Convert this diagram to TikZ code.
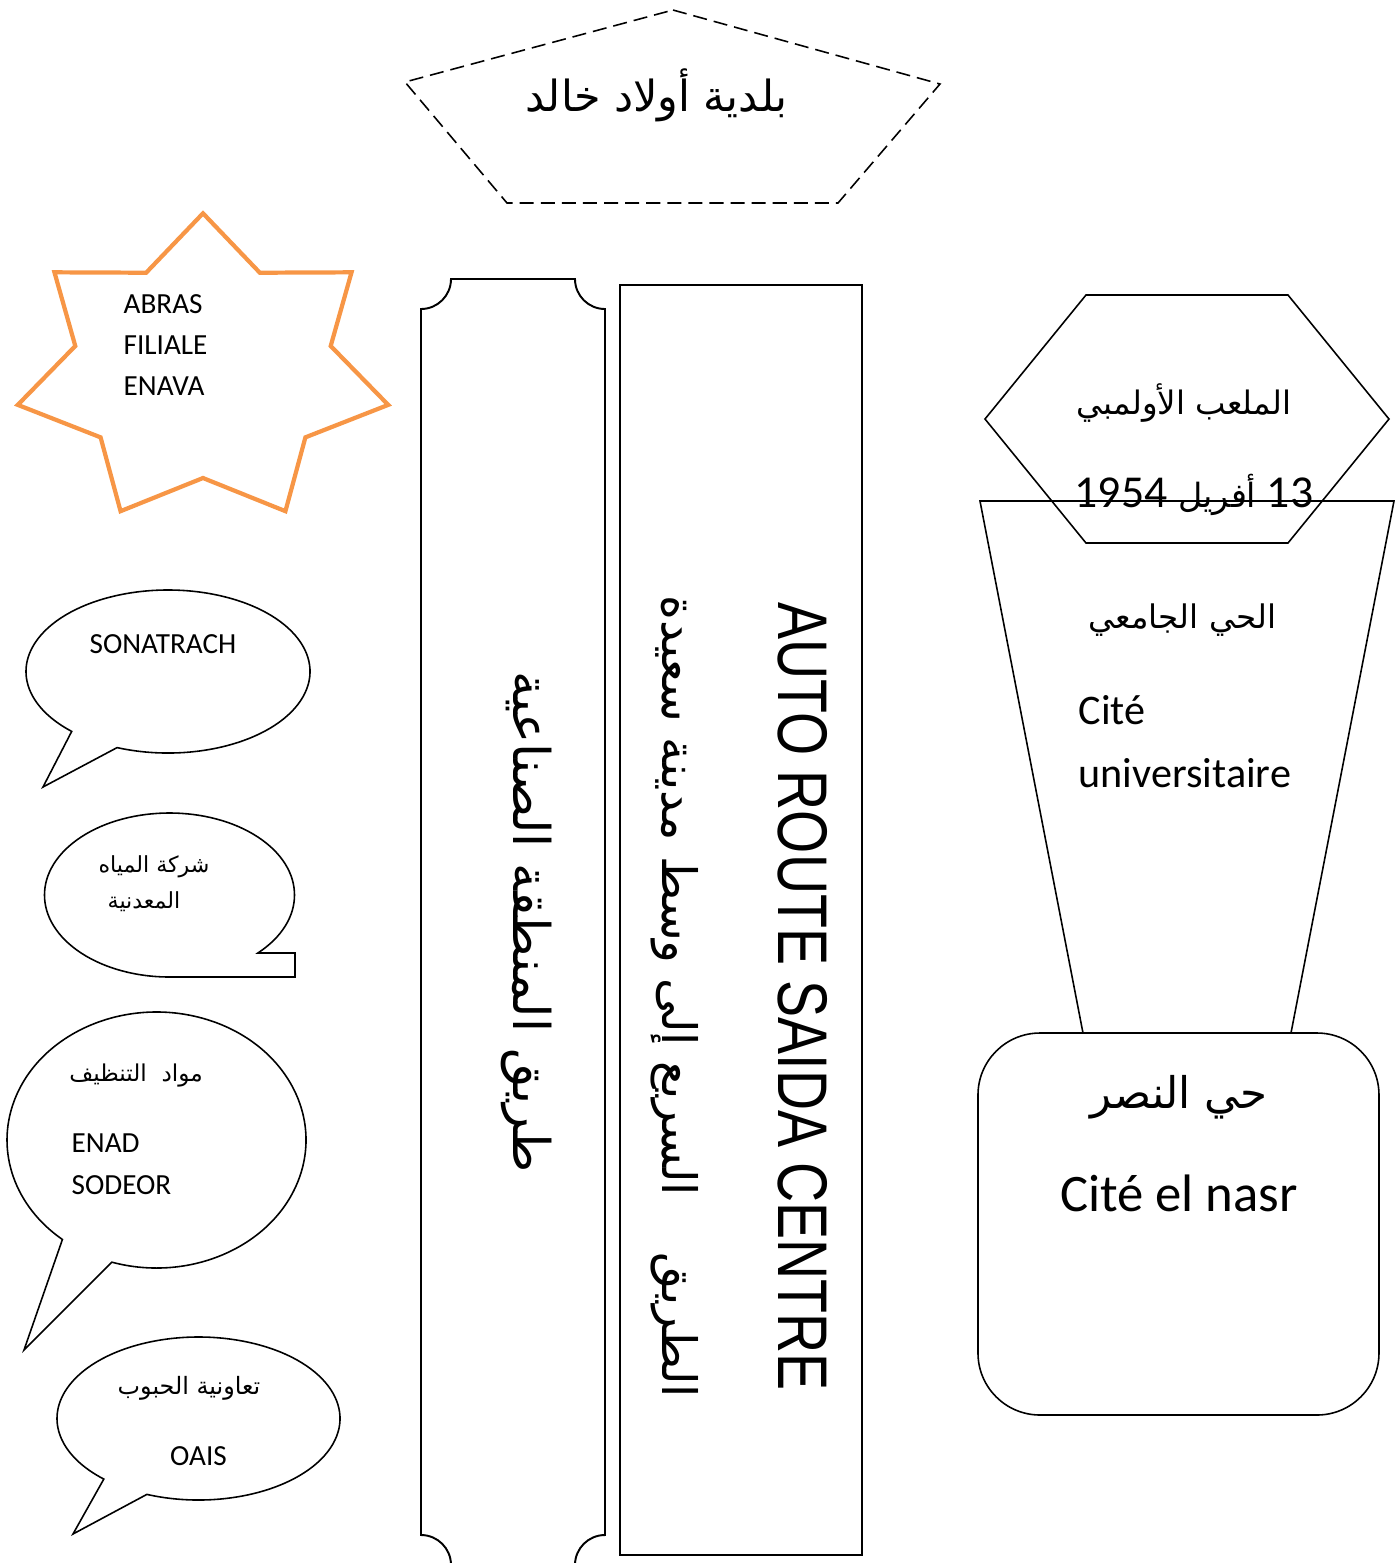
\documentclass[tikz,border=0pt]{standalone}
\usepackage{fontspec}
\setmainfont{Carlito}
\newfontfamily\arabicfont[Script=Arabic]{DejaVu Sans}
\newfontfamily\narrowfont[FakeStretch=0.79]{Liberation Sans}
\TeXXeTstate=1
\usetikzlibrary{calc}
\definecolor{starorange}{RGB}{247,150,70}

\begin{document}
\begin{tikzpicture}[
    outline/.style={draw=black, line width=0.45pt},
    pentline/.style={draw=black, line width=0.45pt, dash pattern=on 4pt off 2pt},
    starline/.style={draw=starorange, line width=1.2pt},
    arab/.style={font=\arabicfont\fontsize{#1}{#1}\selectfont, inner sep=0pt},
    latin/.style={font=\fontsize{#1}{#1}\selectfont, inner sep=0pt}
]
\useasboundingbox (0,0) rectangle (14,-15.63);

% title pentagon
\draw[pentline] (6.73,-0.10) -- (9.40,-0.84) -- (8.38,-2.03) -- (5.07,-2.03) -- (4.05,-0.82) -- cycle;
\node[arab=12.2] (baladia) at (6.565,-0.95) {\beginR بلدية أولاد خالد\endR};

% star
\draw[starline, shift={(2.03,-3.70)}] (90:1.90 and 1.567)
    \foreach \k in {1,...,13}{ -- ({90+\k*180/7}:{1.90-0.59*mod(\k,2)} and {1.567-0.487*mod(\k,2)}) } -- cycle;
\node[font=\fontsize{8.3}{11.7}\selectfont, align=left, anchor=west, inner sep=0pt] (abras) at (1.23,-3.45) {ABRAS\\FILIALE\\ENAVA};

% speech bubbles
\coordinate (sonac) at (1.68,-6.715);
\draw[outline] ($(sonac)+(249:1.42 and 0.815)$) arc[start angle=249, end angle=587.3, x radius=1.42, y radius=0.815]
    -- (0.43,-7.87) -- cycle;
\node[latin=8.3] (sonatrach) at (1.63,-6.44) {SONATRACH};

\coordinate (eauc) at (1.695,-8.95);
\draw[outline] ($(eauc)+(-45:1.25 and 0.82)$) arc[start angle=-45, end angle=270, x radius=1.25, y radius=0.82]
    -- (2.95,-9.77) -- (2.95,-9.53) -- cycle;
\node[arab=6.3] (eau1) at (1.54,-8.67) {\beginR شركة المياه\endR};
\node[arab=6.3] (eau2) at (1.44,-9.02) {\beginR المعدنية\endR};

\coordinate (nettc) at (1.565,-11.40);
\draw[outline] ($(nettc)+(252.6:1.495 and 1.28)$) arc[start angle=252.6, end angle=591, x radius=1.495, y radius=1.28]
    -- (0.24,-13.50) -- cycle;
\node[arab=6.6] (nett) at (1.36,-10.76) {\beginR مواد\ \ التنظيف\endR};
\node[font=\fontsize{8.3}{11.9}\selectfont, align=left, anchor=west, inner sep=0pt] (enad) at (0.71,-11.64) {ENAD\\SODEOR};

\coordinate (oaisc) at (1.985,-14.185);
\draw[outline] ($(oaisc)+(248.6:1.415 and 0.815)$) arc[start angle=248.6, end angle=588, x radius=1.415, y radius=0.815]
    -- (0.73,-15.34) -- cycle;
\node[arab=6.8] (hobob) at (1.89,-13.88) {\beginR تعاونية الحبوب\endR};
\node[latin=8.3] (oais) at (1.985,-14.56) {OAIS};

% roads
\draw[outline, line width=0.55pt] (4.21,-3.09) arc[start angle=-90, end angle=0, radius=0.30]
    -- (5.75,-2.79) arc[start angle=180, end angle=270, radius=0.30]
    -- (6.05,-15.35) arc[start angle=90, end angle=180, radius=0.30]
    -- (4.51,-15.65) arc[start angle=0, end angle=90, radius=0.30] -- cycle;
\node[arab=14.4, rotate=-90] (zone) at (5.27,-9.22) {\beginR طريق المنطقة الصناعية\endR};

\draw[outline, line width=0.55pt] (6.20,-2.85) rectangle (8.62,-15.55);
\node[arab=13.5, rotate=-90] (rapide) at (6.75,-9.97) {\beginR الطريق\hspace{1.2em}السريع إلى وسط مدينة سعيدة\endR};
\node[font=\narrowfont\fontsize{20}{20}\selectfont, inner sep=0pt, rotate=-90] (autoroute) at (8.03,-9.965) {AUTO ROUTE SAIDA CENTRE};

% right side
\draw[outline] (10.86,-2.95) -- (12.88,-2.95) -- (13.89,-4.19) -- (12.88,-5.43) -- (10.86,-5.43) -- (9.85,-4.19) -- cycle;
\node[arab=9.2] (stade) at (11.84,-4.03) {\beginR الملعب الأولمبي\endR};
\node[arab=9.5] (avril) at (11.94,-4.95) {\beginR\beginL{\normalfont\fontsize{13}{13}\selectfont 13}\endL{} أفريل \beginL{\normalfont\fontsize{13}{13}\selectfont 1954}\endL\endR};

\draw[outline] (9.80,-5.01) -- (13.94,-5.01) -- (12.91,-10.33) -- (10.83,-10.33) -- cycle;
\node[arab=9.25] (jamii) at (11.825,-6.20) {\beginR الحي الجامعي\endR};
\node[font=\fontsize{12}{17.9}\selectfont, align=left, anchor=west, inner sep=0pt] (citeu) at (10.78,-7.42) {Cité\\universitaire};

\draw[outline, rounded corners=0.62cm] (9.78,-10.33) rectangle (13.79,-14.15);
\node[arab=12.4] (nasr) at (11.79,-10.97) {\beginR حي النصر\endR};
\node[latin=15] (citen) at (11.79,-11.93) {Cité el nasr};
\end{tikzpicture}
\end{document}
